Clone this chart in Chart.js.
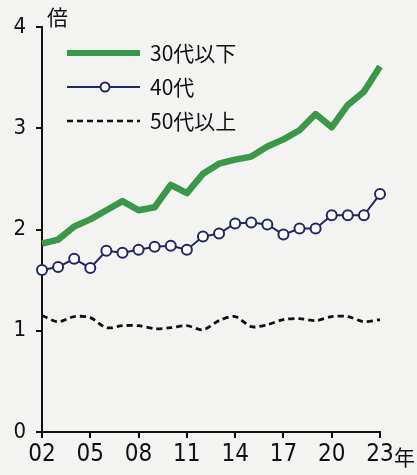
<!DOCTYPE html>
<html>
<head>
<meta charset="utf-8">
<script src="https://cdn.jsdelivr.net/npm/chart.js@4/dist/chart.umd.min.js"></script>
<style>
  html, body { margin: 0; padding: 0; background: #f3f3f1; }
  #wrap { width: 417px; height: 475px; }
</style>
</head>
<body>
<div id="wrap"><canvas id="chart" width="417" height="475"></canvas></div>
<script>
// 年（2002〜2023）
const years = ['02','03','04','05','06','07','08','09','10','11','12',
               '13','14','15','16','17','18','19','20','21','22','23'];

// 倍率
const under30 = [1.86, 1.90, 2.03, 2.10, 2.19, 2.28, 2.19, 2.22, 2.44, 2.36, 2.55,
                 2.65, 2.69, 2.72, 2.82, 2.89, 2.98, 3.14, 3.01, 3.23, 3.36, 3.61];
const age40s  = [1.60, 1.63, 1.71, 1.62, 1.79, 1.77, 1.80, 1.83, 1.84, 1.80, 1.93,
                 1.96, 2.06, 2.07, 2.05, 1.95, 2.01, 2.01, 2.14, 2.14, 2.14, 2.35];
const over50  = [1.15, 1.09, 1.14, 1.13, 1.03, 1.05, 1.05, 1.02, 1.03, 1.05, 1.01,
                 1.10, 1.14, 1.04, 1.06, 1.11, 1.12, 1.10, 1.14, 1.14, 1.09, 1.11];

const seriesNames = ['30代以下', '40代', '50代以上'];
const yTicks = [0, 1, 2, 3, 4];

const GREEN = '#3a9848';
const NAVY = '#1f2866';
const NUM_FONT = '"Liberation Sans Narrow", "DejaVu Sans Condensed", "Liberation Sans", sans-serif';
const JP_FONT = '"Noto Sans CJK JP", "Noto Sans", sans-serif';

// 数字は細身の書体で
const narrowText = {
  id: 'narrowText',
  beforeDraw(chart) {
    if ('fontStretch' in chart.ctx) chart.ctx.fontStretch = 'condensed';
  }
};

// 凡例と単位の文字を描く
const extras = {
  id: 'extras',
  afterDraw(chart) {
    const c = chart.ctx;
    const x0 = 67, x1 = 140, tx = 150;
    const rows = [53, 87, 121];
    c.save();
    if ('fontStretch' in c) c.fontStretch = 'normal';
    c.lineCap = 'butt';
    // 30代以下
    c.strokeStyle = GREEN; c.lineWidth = 6;
    c.beginPath(); c.moveTo(x0, rows[0]); c.lineTo(x1, rows[0]); c.stroke();
    // 40代
    c.strokeStyle = NAVY; c.lineWidth = 2;
    c.beginPath(); c.moveTo(x0, rows[1]); c.lineTo(x1, rows[1]); c.stroke();
    c.fillStyle = '#ffffff';
    c.beginPath(); c.arc(105, rows[1], 4.5, 0, Math.PI * 2); c.fill(); c.stroke();
    // 50代以上
    c.strokeStyle = '#111'; c.lineWidth = 2.5; c.setLineDash([6, 4]);
    c.beginPath(); c.moveTo(x0, rows[2]); c.lineTo(x1, rows[2]); c.stroke();
    c.setLineDash([]);

    c.fillStyle = '#111';
    c.textBaseline = 'middle';
    c.font = '21px ' + JP_FONT;
    seriesNames.forEach((n, i) => c.fillText(n, tx, rows[i]));

    // 単位
    c.font = '21px ' + JP_FONT;
    c.fillText('倍', 47, 17);
    const xs = chart.scales.x;
    c.fillText('年', xs.getPixelForValue(years.length - 1) + 14, 457);
    c.restore();
  }
};

const ctx = document.getElementById('chart').getContext('2d');
const chart = new Chart(ctx, {
  type: 'line',
  data: {
    labels: years,
    datasets: [
      {
        label: seriesNames[0],
        data: under30,
        borderColor: GREEN,
        borderWidth: 6.5,
        pointRadius: 0,
        tension: 0,
        borderJoinStyle: 'round',
        order: 0
      },
      {
        label: seriesNames[1],
        data: age40s,
        borderColor: NAVY,
        borderWidth: 2,
        pointRadius: 5,
        pointBorderWidth: 2,
        pointBackgroundColor: '#ffffff',
        pointBorderColor: NAVY,
        tension: 0,
        order: 1
      },
      {
        label: seriesNames[2],
        data: over50,
        borderColor: '#111',
        borderWidth: 2.8,
        borderDash: [6, 4],
        pointRadius: 0,
        tension: 0.3,
        order: 2
      }
    ]
  },
  options: {
    responsive: false,
    animation: false,
    clip: false,
    layout: { padding: { top: 27, right: 37, left: 0, bottom: 0 } },
    plugins: { legend: { display: false }, tooltip: { enabled: false } },
    scales: {
      x: {
        type: 'category',
        offset: false,
        afterFit: s => { s.height = 43; },
        border: { display: true, color: '#111', width: 2 },
        grid: { drawOnChartArea: false, drawTicks: true, tickLength: 6, color: '#111', lineWidth: 2 },
        ticks: {
          autoSkip: false,
          maxRotation: 0,
          padding: 2,
          color: '#111',
          font: { family: NUM_FONT, size: 24 },
          callback: (v, i) => (i % 3 === 0 ? years[i] : null)
        }
      },
      y: {
        min: yTicks[0],
        max: yTicks[yTicks.length - 1],
        afterFit: s => { s.width = 42; },
        afterBuildTicks: s => { s.ticks = yTicks.map(v => ({ value: v })); },
        border: { display: true, color: '#111', width: 2 },
        grid: { drawOnChartArea: false, drawTicks: true, tickLength: 6, color: '#111', lineWidth: 2 },
        ticks: {
          padding: 10,
          color: '#111',
          font: { family: NUM_FONT, size: 22 }
        }
      }
    }
  },
  plugins: [narrowText, extras]
});
</script>
</body>
</html>
